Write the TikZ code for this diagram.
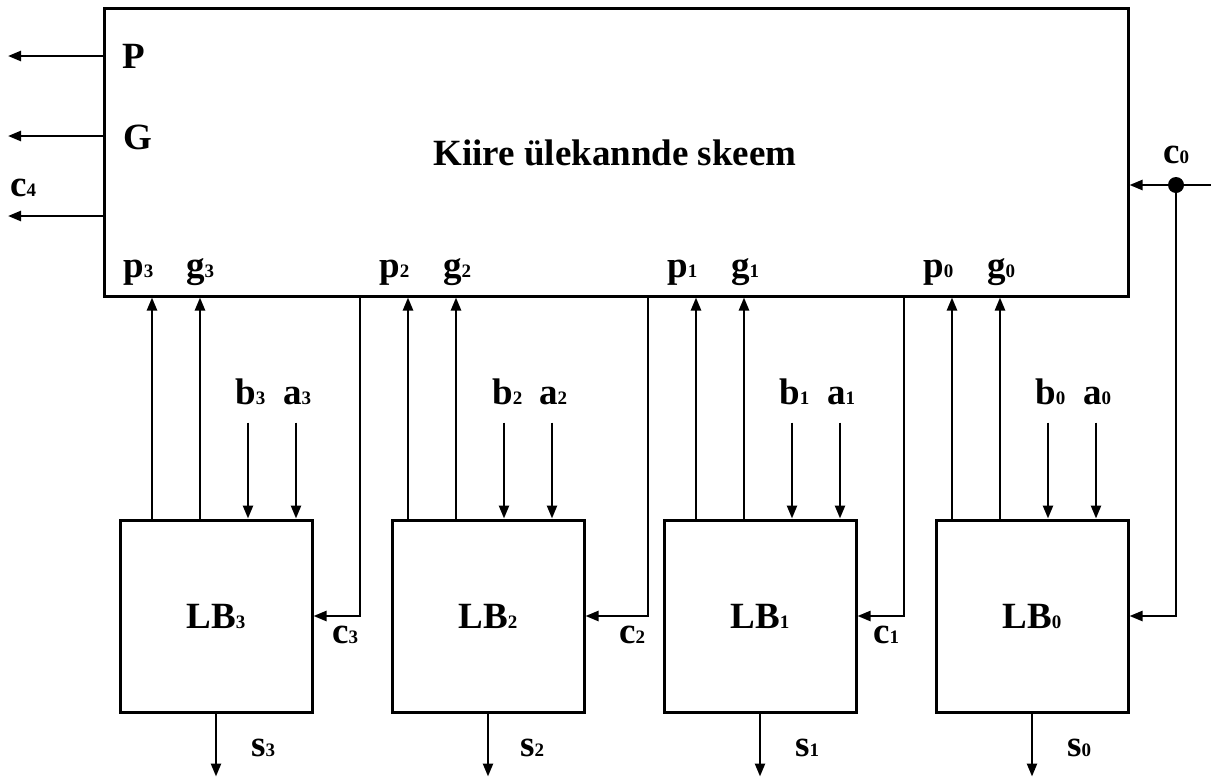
\documentclass[tikz,border=0pt]{standalone}
\usepackage{fontspec}
\setmainfont{Liberation Serif}
\usetikzlibrary{arrows.meta,calc}
% small digit index sitting on the baseline
\newcommand{\dsub}[1]{{\fontsize{19pt}{19pt}\selectfont #1}}
\begin{document}
\begin{tikzpicture}[x=1pt,y=-1pt,
  wire/.style={line width=2.4pt},
  arr/.style={wire,-{Triangle[length=13pt,width=10pt]}},
  block/.style={draw,line width=3pt,inner sep=0pt,anchor=center,
    font=\fontsize{37pt}{40pt}\selectfont\bfseries},
  lbl/.style={inner sep=0pt,anchor=base west,
    font=\fontsize{37pt}{40pt}\selectfont\bfseries}]
\useasboundingbox (0,0) rectangle (1211,777);

% carry lookahead unit
\node[block,minimum width=1024pt,minimum height=288pt] (K) at (616,152) {};
\node[lbl,anchor=base] (title) at (615,165) {Kiire ülekannde skeem};

% logic blocks
\foreach \i/\x in {3/216,2/488,1/760,0/1032}
  \node[block,minimum width=192pt,minimum height=192pt] (LB\i) at (\x,616) {LB\dsub{\i}};

% group outputs
\coordinate (Pout) at (8,56);
\coordinate (Gout) at (8,136);
\coordinate (Cout) at (8,216);
\draw[arr] (K.west |- Pout) -- (Pout);
\draw[arr] (K.west |- Gout) -- (Gout);
\draw[arr] (K.west |- Cout) -- (Cout);
\node[lbl] (lP) at (122,68) {P};
\node[lbl] (lG) at (123,149) {G};
\node[lbl] (lc4) at (10,196) {c\dsub{4}};

% carry in
\coordinate (c0in) at (1211,185);
\coordinate (c0dot) at (1176,185);
\draw[arr] (c0in) -- (K.east |- c0in);
\draw[arr] (c0dot) |- (LB0.east);
\fill (c0dot) circle (8);
\node[lbl] (lc0) at (1163,163) {c\dsub{0}};

% p, g up to the unit; b, a into each block; sum out
\foreach \i/\o in {3/-64,2/-80,1/-64,0/-80} {
  \coordinate (p\i) at ($(LB\i.north)+(\o,0)$);
  \coordinate (g\i) at ($(LB\i.north)+(\o+48,0)$);
  \coordinate (b\i) at ($(LB\i.north)+(\o+96,-96)$);
  \coordinate (a\i) at ($(LB\i.north)+(\o+144,-96)$);
  \coordinate (s\i) at ($(LB\i.south)+(0,63)$);
  \draw[arr] (p\i) -- (p\i |- K.south);
  \draw[arr] (g\i) -- (g\i |- K.south);
  \draw[arr] (b\i) -- (b\i |- LB\i.north);
  \draw[arr] (a\i) -- (a\i |- LB\i.north);
  \draw[arr] (LB\i.south) -- (s\i);
}

% carries from the unit into the blocks
\coordinate (c3x) at (360,0);
\coordinate (c2x) at (648,0);
\coordinate (c1x) at (904,0);
\draw[arr] (K.south -| c3x) |- (LB3.east);
\draw[arr] (K.south -| c2x) |- (LB2.east);
\draw[arr] (K.south -| c1x) |- (LB1.east);

% port labels on the unit
\node[lbl] (lp3) at (123,277) {p\dsub{3}};
\node[lbl] (lg3) at (186,277) {g\dsub{3}};
\node[lbl] (lp2) at (379,277) {p\dsub{2}};
\node[lbl] (lg2) at (443,277) {g\dsub{2}};
\node[lbl] (lp1) at (667,277) {p\dsub{1}};
\node[lbl] (lg1) at (731,277) {g\dsub{1}};
\node[lbl] (lp0) at (923,277) {p\dsub{0}};
\node[lbl] (lg0) at (987,277) {g\dsub{0}};

% operand labels
\node[lbl] (lb3) at (235,404) {b\dsub{3}};
\node[lbl] (la3) at (283,404) {a\dsub{3}};
\node[lbl] (lb2) at (492,404) {b\dsub{2}};
\node[lbl] (la2) at (539,404) {a\dsub{2}};
\node[lbl] (lb1) at (779,404) {b\dsub{1}};
\node[lbl] (la1) at (827,404) {a\dsub{1}};
\node[lbl] (lb0) at (1035,404) {b\dsub{0}};
\node[lbl] (la0) at (1083,404) {a\dsub{0}};

% carry labels
\node[lbl] (lc3) at (332,643) {c\dsub{3}};
\node[lbl] (lc2) at (619,643) {c\dsub{2}};
\node[lbl] (lc1) at (873,643) {c\dsub{1}};

% sum labels
\node[lbl] (ls3) at (251,756) {s\dsub{3}};
\node[lbl] (ls2) at (520,756) {s\dsub{2}};
\node[lbl] (ls1) at (795,756) {s\dsub{1}};
\node[lbl] (ls0) at (1067,756) {s\dsub{0}};
\end{tikzpicture}
\end{document}
